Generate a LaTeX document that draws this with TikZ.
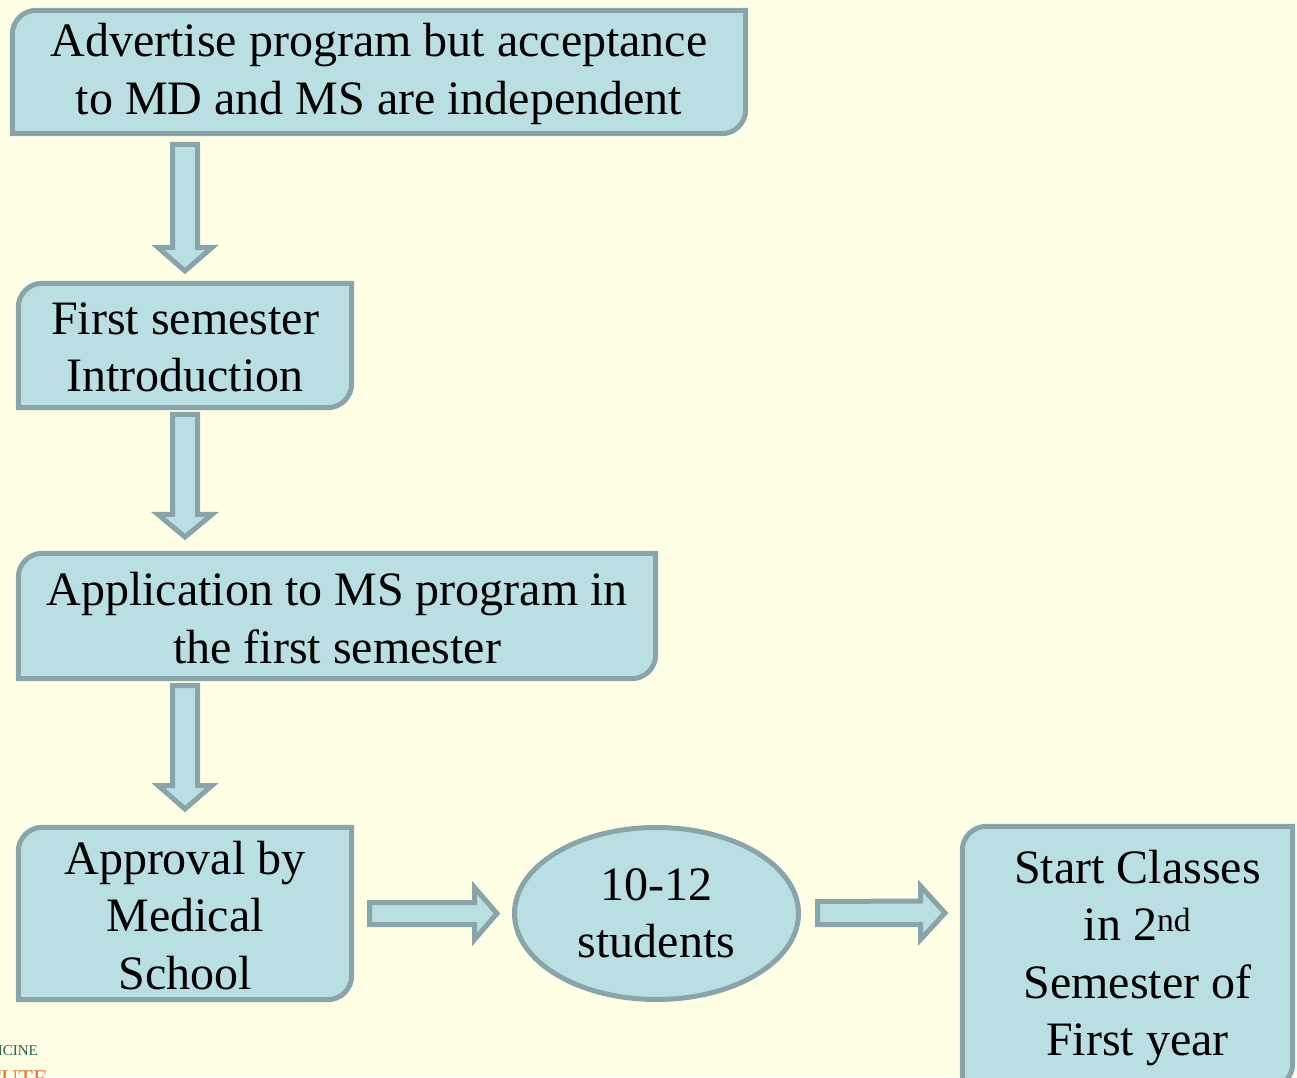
\documentclass[tikz,border=0pt]{standalone}
\usepackage{fontspec}
\setmainfont{Liberation Serif}
\newfontfamily\tnr{Liberation Serif}
\usetikzlibrary{shapes.geometric,calc}
\definecolor{bg}{HTML}{FFFFE6}
\definecolor{boxfill}{HTML}{B9DFE3}
\definecolor{boxline}{HTML}{8AA5A9}
\definecolor{logogreen}{HTML}{2F5E4C}
\definecolor{logoorange}{HTML}{E2733A}
\tikzset{
  boxtext/.style={rectangle, align=center, inner sep=0pt,
    font=\tnr\fontsize{48}{57.5}\selectfont},
  shapeline/.style={draw=boxline, fill=boxfill, line width=5pt},
  blk/.style={draw=boxline, fill=boxfill, line width=5pt, line join=miter},
  ovalnode/.style={ellipse, draw=boxline, fill=boxfill, line width=5pt,
    inner sep=0pt, align=center, font=\tnr\fontsize{48}{57.5}\selectfont}
}
% rounded top-left and bottom-right corners; #1 node name
\newcommand{\diagbox}[1]{%
  \draw[shapeline] (#1.south west) -- ($(#1.north west)+(0,-24)$)
    arc[start angle=180, end angle=90, radius=24] -- (#1.north east)
    -- ($(#1.south east)+(0,24)$)
    arc[start angle=0, end angle=-90, radius=24] -- cycle;}
\begin{document}
\begin{tikzpicture}[x=1pt,y=1pt]
\useasboundingbox (0,0) rectangle (1297,1077);
\fill[bg] (0,0) rectangle (1297,1077);

% boxes (geometry nodes)
\node[rectangle, minimum width=733pt, minimum height=123pt, inner sep=0pt] (b1) at (379,1005) {};
\node[rectangle, minimum width=333pt, minimum height=124pt, inner sep=0pt] (b2) at (185,731.5) {};
\node[rectangle, minimum width=637pt, minimum height=125pt, inner sep=0pt] (b3) at (337,461) {};
\node[rectangle, minimum width=333pt, minimum height=172pt, inner sep=0pt] (b4) at (185,163.5) {};
\node[rectangle, minimum width=330pt, minimum height=261pt, inner sep=0pt] (b5) at (1127.5,120) {};
\diagbox{b1}
\diagbox{b2}
\diagbox{b3}
\diagbox{b4}
\diagbox{b5}

% texts
\node[boxtext] (t1) at ($(b1.center)+(0,-2)$) {Advertise program but acceptance\\to MD and MS are independent};
\node[boxtext] (t2) at ($(b2.center)+(0,-2)$) {First semester\\Introduction};
\node[boxtext] (t3) at ($(b3.center)+(0,-2)$) {Application to MS program in\\the first semester};
\node[boxtext] (t4) at ($(b4.center)+(0,-2)$) {Approval by\\Medical\\School};
\node[boxtext] (t5) at ($(b5.center)+(10,-1)$) {Start Classes\\in 2\textsuperscript{nd}\\Semester of\\First year};

% ellipse
\node[ovalnode, minimum width=284pt, minimum height=172pt] (e1) at (656.5,163.5) {10-12\\students};

% vertical block arrows
\coordinate (a1s) at (185,932.5);
\coordinate (a1t) at (185,806);
\coordinate (a2s) at (185,662.5);
\coordinate (a2t) at (185,540);
\coordinate (a3s) at (185,391.5);
\coordinate (a3t) at (185,268);
\draw[blk] (a1s) ++(-12.5,0) -- ++(25,0) -- ++(0,-103) -- ++(14.5,0) -- (a1t) -- ++(-27,23.5) -- ++(14.5,0) -- cycle;
\draw[blk] (a2s) ++(-12.5,0) -- ++(25,0) -- ++(0,-100) -- ++(14.5,0) -- (a2t) -- ++(-27,22.5) -- ++(14.5,0) -- cycle;
\draw[blk] (a3s) ++(-12.5,0) -- ++(25,0) -- ++(0,-100) -- ++(14.5,0) -- (a3t) -- ++(-27,23.5) -- ++(14.5,0) -- cycle;

% horizontal block arrows
\coordinate (h1s) at (369.5,163.5);
\coordinate (h1t) at (497,163.5);
\coordinate (h2s) at (817.5,164);
\coordinate (h2t) at (945,164);
\draw[blk] (h1s) ++(0,11) -- ++(0,-22) -- ++(105,0) -- ++(0,-15) -- (h1t) -- ++(-22.5,26) -- ++(0,-15) -- cycle;
\draw[blk] (h2s) ++(0,11.5) -- ++(0,-23) -- ++(103,0) -- ++(0,-15) -- (h2t) -- ++(-24.5,27) -- ++(0,-15) -- cycle;

% logo fragments
\node[anchor=base east, inner sep=0pt, text=logogreen, font=\tnr\fontsize{15}{15}\selectfont] (lg1) at (38,22) {ICINE};
\node[anchor=base east, inner sep=0pt, text=logoorange, font=\tnr\fontsize{24}{24}\selectfont] (lg2) at (48,-9) {TUTE};
\end{tikzpicture}
\end{document}
